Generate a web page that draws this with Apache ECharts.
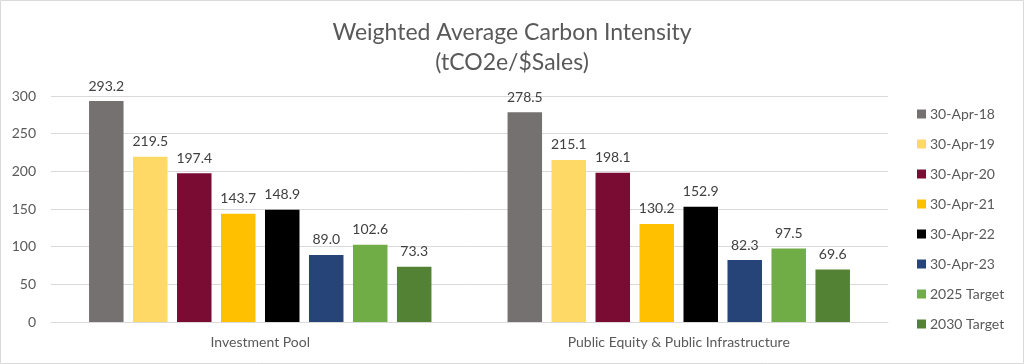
<!DOCTYPE html>
<html>
<head>
<meta charset="utf-8">
<script src="https://cdn.jsdelivr.net/npm/echarts@6/dist/echarts.min.js"></script>
<style>
html,body{margin:0;padding:0;background:#fff;}
#c{width:1024px;height:364px;}
</style>
</head>
<body>
<div id="c"></div>
<script>
var categories = ["Investment Pool", "Public Equity & Public Infrastructure"];
var seriesNames = ["30-Apr-18", "30-Apr-19", "30-Apr-20", "30-Apr-21", "30-Apr-22", "30-Apr-23", "2025 Target", "2030 Target"];
var apr18 = [293.2, 278.5];
var apr19 = [219.5, 215.1];
var apr20 = [197.4, 198.1];
var apr21 = [143.7, 130.2];
var apr22 = [148.9, 152.9];
var apr23 = [89.0, 82.3];
var target2025 = [102.6, 97.5];
var target2030 = [73.3, 69.6];
var seriesValues = [apr18, apr19, apr20, apr21, apr22, apr23, target2025, target2030];
var colors = ["#767171", "#FFD966", "#7A0C33", "#FFC000", "#000000", "#264478", "#70AD47", "#548235"];

var FONT = "Lato";
var chart = echarts.init(document.getElementById('c'));
var series = seriesNames.map(function (n, i) {
  return {
    name: n,
    type: 'bar',
    data: seriesValues[i],
    barWidth: 34.5,
    barGap: '27.5%',
    itemStyle: { color: colors[i] },
    label: {
      show: true,
      position: 'top',
      distance: 8,
      color: '#404040',
      fontFamily: FONT,
      fontSize: 14,
      formatter: function (p) { return p.value.toFixed(1); }
    }
  };
});
chart.setOption({
  animation: false,
  textStyle: { fontFamily: FONT },
  graphic: [{
    type: 'rect',
    shape: { x: 0.5, y: 0.5, width: 1023, height: 363 },
    style: { fill: 'none', stroke: '#d9d9d9', lineWidth: 1 },
    silent: true
  }],
  title: {
    text: 'Weighted Average Carbon Intensity\n(tCO2e/$Sales)',
    left: 'center',
    top: 13,
    textStyle: { fontFamily: FONT, fontSize: 23, fontWeight: 'normal', color: '#595959', lineHeight: 30 }
  },
  legend: {
    orient: 'vertical',
    left: 912,
    top: 101,
    itemWidth: 9,
    itemHeight: 9,
    itemGap: 14,
    icon: 'rect',
    data: seriesNames,
    textStyle: { fontFamily: FONT, fontSize: 14, color: '#595959', lineHeight: 16, padding: [0, 0, 0, -1] }
  },
  grid: { left: 51, right: 136, top: 96, bottom: 42, containLabel: false },
  xAxis: {
    type: 'category',
    data: categories,
    axisLine: { lineStyle: { color: '#d9d9d9', width: 1 } },
    axisTick: { show: false },
    axisLabel: { color: '#595959', fontSize: 14, fontFamily: FONT, margin: 13 }
  },
  yAxis: {
    type: 'value',
    min: 0,
    max: 300,
    interval: 50,
    axisLine: { show: false },
    axisTick: { show: false },
    splitLine: { lineStyle: { color: '#d9d9d9', width: 1 } },
    axisLabel: { color: '#595959', fontSize: 14, fontFamily: FONT, margin: 15 }
  },
  series: series
});
</script>
</body>
</html>
